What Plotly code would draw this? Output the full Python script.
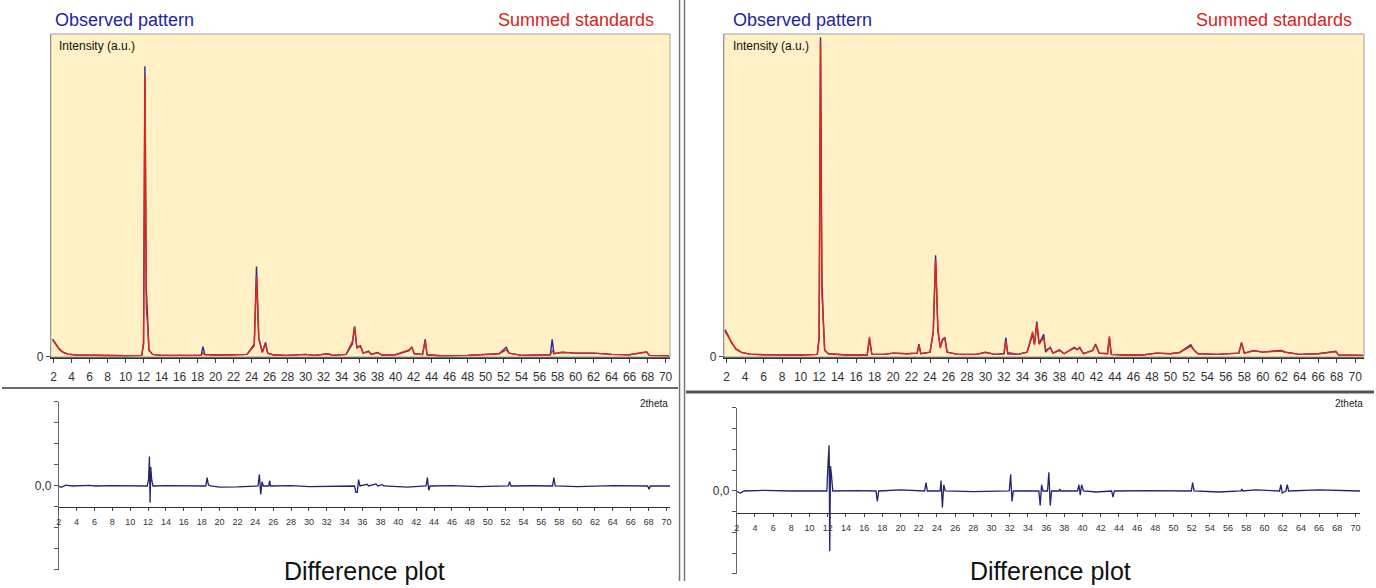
import plotly.graph_objects as go

W, H = 1376, 588

# ---------------- data (2theta, intensity in a.u.; 1000 = full panel height) ----------------
ticks_2theta = list(range(2, 71, 2))

obs_left_x = [1.9, 2.2, 2.6, 3.0, 3.6, 4.5, 6, 8, 10, 11.8, 12.0, 12.15, 12.3, 12.45, 12.6, 13.0, 14, 15, 16, 17,
              18.4, 18.6, 18.8, 20, 22, 23.5, 24.3, 24.55, 24.8, 25.2, 25.55, 25.8, 26.5, 28, 30, 31, 32.5, 33,
              34.5, 35.2, 35.45, 35.7, 36.1, 36.4, 37, 37.3, 38, 38.5, 40, 41.5, 41.8, 42.1, 43.0, 43.3, 43.5,
              45, 48, 50, 51.5, 52.3, 52.6, 54, 56.5, 57.2, 57.4, 57.6, 58.5, 60, 62, 64, 66, 67.9, 68.2, 70, 70.4]
obs_left_y = [55, 42, 26, 16, 9, 6, 5, 4, 4, 5, 40, 900, 215, 120, 20, 8, 5, 5, 4, 5,
              5, 32, 8, 6, 7, 8, 40, 280, 60, 15, 45, 12, 6, 5, 8, 5, 10, 5,
              8, 40, 93, 30, 35, 12, 18, 8, 14, 6, 7, 20, 30, 10, 8, 55, 7,
              4, 5, 8, 10, 30, 12, 5, 6, 7, 55, 10, 15, 12, 12, 8, 7, 15, 5, 4, 4]
sum_left_x = obs_left_x
sum_left_y = [52, 40, 25, 15, 9, 6, 5, 4, 4, 5, 45, 870, 150, 100, 22, 8, 5, 5, 4, 5,
              5, 12, 7, 6, 7, 8, 35, 250, 55, 14, 40, 12, 6, 5, 8, 5, 10, 5,
              8, 48, 95, 28, 33, 12, 17, 8, 13, 6, 7, 22, 30, 10, 8, 50, 7,
              4, 5, 8, 10, 22, 12, 5, 6, 7, 20, 10, 14, 12, 12, 8, 7, 16, 5, 4, 4]

obs_right_x = [1.8, 2.1, 2.5, 3.0, 3.6, 4.5, 6, 8, 10, 11.8, 12.0, 12.15, 12.3, 12.45, 12.6, 13, 14, 15, 17.2,
               17.45, 17.7, 19, 20, 21.5, 22.6, 22.8, 23.0, 24.0, 24.35, 24.6, 24.85, 25.1, 25.35, 25.6, 25.85,
               27, 29, 30, 31, 32.0, 32.2, 32.4, 33.5, 34.5, 35.1, 35.3, 35.55, 35.8, 36.3, 36.5, 37.0, 37.3,
               38, 38.5, 39.6, 39.9, 40.2, 40.6, 41.6, 41.9, 42.3, 43.2, 43.4, 43.6, 45, 47, 48.5, 50, 51,
               52.2, 52.6, 53, 55, 57.4, 57.7, 58, 59, 60, 61, 62, 62.5, 64, 66, 67.9, 68.2, 70, 70.9]
obs_right_y = [85, 70, 45, 25, 14, 9, 7, 6, 6, 8, 60, 990, 240, 120, 20, 10, 8, 6, 6,
               55, 8, 8, 12, 10, 12, 40, 10, 15, 80, 315, 80, 30, 55, 60, 15,
               8, 8, 15, 8, 10, 60, 10, 8, 15, 70, 40, 110, 40, 70, 15, 30, 12,
               22, 10, 30, 22, 30, 10, 20, 40, 12, 10, 60, 8, 6, 6, 12, 10, 14,
               38, 20, 10, 8, 12, 45, 12, 20, 15, 18, 20, 15, 8, 10, 18, 6, 5, 5]
sum_right_x = obs_right_x
sum_right_y = [80, 66, 43, 24, 14, 9, 7, 6, 6, 8, 55, 975, 200, 110, 22, 10, 8, 6, 6,
               62, 8, 8, 12, 10, 12, 35, 10, 15, 75, 300, 90, 28, 52, 58, 15,
               8, 8, 14, 8, 10, 48, 14, 8, 15, 78, 38, 105, 40, 60, 22, 28, 12,
               20, 10, 27, 24, 27, 10, 20, 38, 12, 10, 64, 8, 6, 6, 12, 10, 14,
               33, 20, 10, 8, 12, 42, 12, 19, 15, 17, 18, 14, 8, 10, 16, 6, 5, 5]

diff_left_x = [1.9, 2.3, 2.8, 3.5, 5.5, 6, 8, 11.9, 12.05, 12.15, 12.22, 12.3, 12.4, 12.55, 14, 16,
               18.45, 18.6, 18.75, 19, 20, 22, 24.3, 24.45, 24.6, 24.75, 24.9, 25.5, 25.6, 25.7, 28, 30, 33,
               35.1, 35.25, 35.4, 35.55, 35.7, 36.5, 36.7, 37.5, 37.7, 38.2, 38.4, 41, 43.1, 43.25, 43.4,
               43.55, 46, 49, 52.3, 52.45, 52.6, 55, 57.25, 57.4, 57.55, 60, 64, 67.9, 68.05, 68.2, 70.4]
diff_left_y = [0, -0.06, 0.04, 0, 0.03, 0, 0.02, 0, 0.3, 1.4, -0.8, 0.9, 0.3, 0, 0.02, 0,
               0, 0.4, 0.05, 0, -0.05, -0.04, 0, 0.55, -0.4, 0.2, 0, 0, 0.25, 0, 0.02, -0.03, 0,
               0, -0.3, -0.3, 0.3, 0, 0.08, 0, 0.1, 0, 0.06, 0, -0.05, 0, 0.4, -0.2,
               0, 0.02, -0.03, 0, 0.2, 0, 0.01, 0, 0.4, 0, -0.03, 0.02, 0, -0.15, 0, 0]

diff_right_x = [1.9, 2.4, 2.8, 5, 8, 11.9, 12.05, 12.15, 12.22, 12.3, 12.4, 12.55, 15, 17.3, 17.45, 17.6,
                20, 22.65, 22.8, 22.95, 24.35, 24.45, 24.6, 24.75, 24.9, 28, 31.95, 32.1, 32.25, 32.4,
                35.2, 35.35, 35.5, 35.65, 36.15, 36.3, 36.45, 36.6, 37.4, 37.5, 37.6, 39.45, 39.6, 39.75,
                39.9, 40.1, 41.5, 43.2, 43.35, 43.5, 47, 51.95, 52.1, 52.25, 55, 57.4, 57.5, 57.6, 59,
                61.65, 61.8, 61.95, 62.35, 62.5, 62.65, 66, 70.5]
diff_right_y = [0, -0.1, 0, 0.03, 0, 0, 1.5, 2.2, -2.9, 1.2, 0.8, 0, 0.02, 0, -0.5, 0,
                0.05, 0, 0.4, 0, 0, 0.5, -0.8, 0.3, 0, -0.03, 0, 0.8, -0.5, 0,
                0, -0.7, 0.3, 0, 0, 0.9, -0.7, 0, 0, 0.1, 0, 0, 0.3, -0.2,
                0.3, 0, -0.05, 0, -0.3, 0, 0.02, 0, 0.4, 0, -0.05, 0, 0.1, 0, 0.05,
                0, 0.3, -0.1, 0, 0.3, 0, 0.05, 0]

diff_ticks = [-4, -3, -2, -1, 0, 1, 2, 3, 4]
diff_ticktext = ["", "", "", "", "0,0", "", "", "", ""]

OBS = "#2a2a9a"
SUM = "#e3261a"
DIFF = "#23236e"
BG = "#fff0c6"
FONT = "Liberation Sans, Arial, sans-serif"
YS = 1.012


def px(x):
    return x / W


def py(y):
    return 1 - y * YS / H


fig = go.Figure()
fig.add_trace(go.Scatter(x=obs_left_x, y=obs_left_y, mode="lines", line=dict(color=OBS, width=1.4), xaxis="x", yaxis="y"))
fig.add_trace(go.Scatter(x=sum_left_x, y=sum_left_y, mode="lines", line=dict(color=SUM, width=1.4), xaxis="x", yaxis="y"))
fig.add_trace(go.Scatter(x=obs_right_x, y=obs_right_y, mode="lines", line=dict(color=OBS, width=1.4), xaxis="x2", yaxis="y2"))
fig.add_trace(go.Scatter(x=sum_right_x, y=sum_right_y, mode="lines", line=dict(color=SUM, width=1.4), xaxis="x2", yaxis="y2"))
fig.add_trace(go.Scatter(x=diff_left_x, y=diff_left_y, mode="lines", line=dict(color=DIFF, width=1.3), xaxis="x3", yaxis="y3"))
fig.add_trace(go.Scatter(x=diff_right_x, y=diff_right_y, mode="lines", line=dict(color=DIFF, width=1.3), xaxis="x4", yaxis="y4"))

top_x = dict(tickmode="array", tickvals=ticks_2theta, ticks="outside", ticklen=4, tickcolor="#444",
             showline=True, linecolor="#333", linewidth=1.5, showgrid=False, zeroline=False,
             tickfont=dict(size=12, color="#333", family=FONT), ticklabelstandoff=4)
top_y = dict(range=[0, 1000], tickmode="array", tickvals=[0], ticktext=["0"], ticks="outside", ticklen=4,
             tickcolor="#444", showline=True, linecolor="#888", linewidth=1, showgrid=False, zeroline=False,
             tickfont=dict(size=12, color="#333", family=FONT))
bot_x = dict(tickmode="array", tickvals=ticks_2theta, ticks="outside", ticklen=3, tickcolor="#444",
             showline=True, linecolor="#333", linewidth=1.2, showgrid=False, zeroline=False,
             tickfont=dict(size=9, color="#333", family=FONT), anchor="free", ticklabelstandoff=3)
bot_y = dict(range=[-4, 4], tickmode="array", tickvals=diff_ticks, ticktext=diff_ticktext, ticks="outside",
             ticklen=4, tickcolor="#555", showline=True, linecolor="#666", linewidth=1, showgrid=False,
             zeroline=False, tickfont=dict(size=12, color="#333", family=FONT), anchor="free")

fig.update_layout(
    width=W, height=H, margin=dict(l=0, r=0, t=0, b=0), paper_bgcolor="white", plot_bgcolor="rgba(0,0,0,0)",
    showlegend=False, font=dict(family=FONT),
    xaxis=dict(top_x, domain=[px(49), px(670)], range=[1.7, 70.5], anchor="y"),
    yaxis=dict(top_y, domain=[py(357), py(34)], anchor="x"),
    xaxis2=dict(top_x, domain=[px(724), px(1366)], range=[1.7, 70.95], anchor="y2"),
    yaxis2=dict(top_y, domain=[py(357), py(34)], anchor="x2"),
    xaxis3=dict(bot_x, domain=[px(56), px(670)], range=[1.9, 70.4], position=py(507)),
    yaxis3=dict(bot_y, domain=[py(570), py(402)], position=px(56)),
    xaxis4=dict(bot_x, domain=[px(736), px(1362)], range=[1.9, 70.5], position=py(513)),
    yaxis4=dict(bot_y, domain=[py(574), py(408)], position=px(736)),
)

shapes = []
# plot boxes (yellow background + thin grey frame)
for x0, x1 in [(49, 670), (724, 1366)]:
    shapes.append(dict(type="rect", xref="paper", yref="paper", x0=px(x0), x1=px(x1), y0=py(357), y1=py(34),
                       fillcolor=BG, line=dict(width=0), layer="below"))
    shapes.append(dict(type="rect", xref="paper", yref="paper", x0=px(x0), x1=px(x1), y0=py(357), y1=py(34),
                       line=dict(color="#a0a0a0", width=1), layer="above"))
# separators
shapes.append(dict(type="line", xref="paper", yref="paper", x0=px(0), x1=px(678), y0=py(388), y1=py(388),
                   line=dict(color="#6a6a6a", width=2)))
shapes.append(dict(type="line", xref="paper", yref="paper", x0=px(686), x1=px(1376), y0=py(392), y1=py(392),
                   line=dict(color="#555555", width=3)))
for xv in (679.5, 684.5):
    shapes.append(dict(type="line", xref="paper", yref="paper", x0=px(xv), x1=px(xv), y0=0, y1=1,
                       line=dict(color="#777777", width=1.5)))
fig.update_layout(shapes=shapes)

ann = []


def text(x, y, s, size, color="#111", xanchor="left"):
    ann.append(dict(x=px(x), y=py(y), xref="paper", yref="paper", text=s, showarrow=False,
                    xanchor=xanchor, yanchor="middle", font=dict(size=size, color=color, family=FONT)))


text(51, 20, "Observed pattern", 18, "#2323a8")
text(656, 20, "Summed standards", 18, "#d8231b", "right")
text(731, 20, "Observed pattern", 18, "#2323a8")
text(1356, 20, "Summed standards", 18, "#d8231b", "right")
text(55, 46, "Intensity (a.u.)", 12)
text(731, 46, "Intensity (a.u.)", 12)
text(670, 404, "2theta", 10, "#222", "right")
text(1367, 404, "2theta", 10, "#222", "right")
text(364, 571, "Difference plot", 25, "#111", "center")
text(1052, 571, "Difference plot", 25, "#111", "center")
fig.update_layout(annotations=ann)

fig.write_html("out.html", config={"displayModeBar": False},
               post_script="document.body.style.margin='0';document.body.style.overflow='hidden';")
